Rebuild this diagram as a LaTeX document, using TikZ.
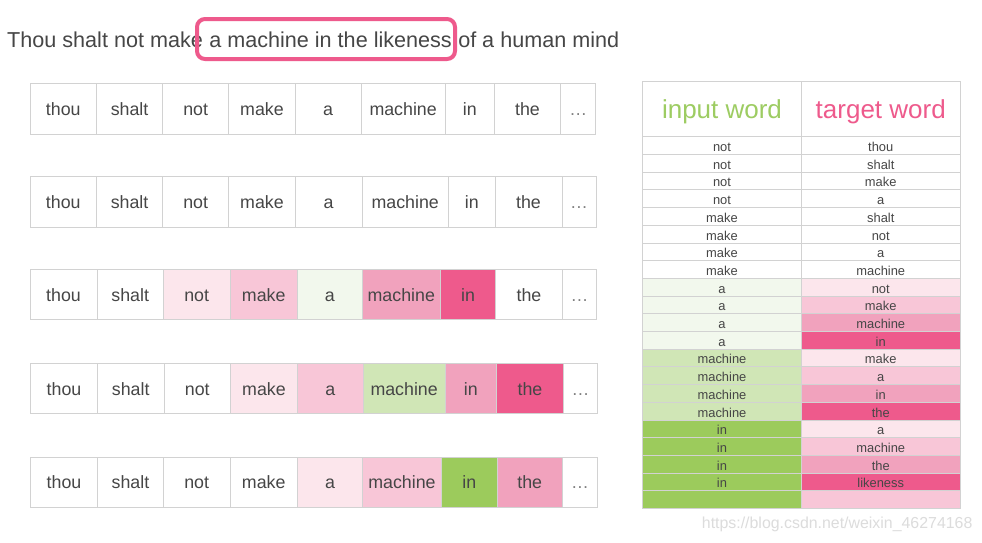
\documentclass[tikz,border=0pt]{standalone}
\usepackage{fontspec}
\setmainfont{Liberation Sans}
\definecolor{pkA}{HTML}{FCE6EC}
\definecolor{pkB}{HTML}{F8C6D7}
\definecolor{pkC}{HTML}{F1A2BD}
\definecolor{pkD}{HTML}{EE5A8C}
\definecolor{gnA}{HTML}{F2F8ED}
\definecolor{gnB}{HTML}{D0E6B6}
\definecolor{gnC}{HTML}{9CCB5C}
\definecolor{hdgreen}{HTML}{9DCC62}
\definecolor{gridc}{HTML}{D2D2D2}
\definecolor{txtc}{HTML}{464646}
\definecolor{wmark}{HTML}{DCDCDC}
\newcommand{\mywordrow}[4]{%
  \foreach \xl/\xr/\w/\c [count=\i] in {#4} {
    \node[cell, fill=\c, minimum width={(\xr-\xl)*1pt}] (#1c\i) at ({(\xl+\xr)/2},{(#2+#3)/2}) {\w};
  }%
}
\begin{document}
\begin{tikzpicture}[x=1pt,y=-1pt,
  cell/.style={draw=gridc, line width=0.9pt, inner sep=0pt, text=txtc,
    minimum height=50.5pt, text height=13.4pt, text depth=0pt,
    font=\fontsize{17.8}{20}\selectfont},
  tcell/.style={draw=gridc, line width=0.8pt, inner sep=0pt, text=txtc,
    minimum height=17.7pt, text height=12pt, text depth=0pt,
    font=\fontsize{12.9}{14}\selectfont},
  hcell/.style={draw=gridc, line width=0.8pt, inner sep=0pt,
    minimum height=56pt, text height=18.6pt, text depth=0pt,
    font=\fontsize{26}{30}\selectfont},
  toptext/.style={inner sep=0pt, text=txtc, font=\fontsize{21.6}{24}\selectfont},
  hlbox/.style={draw=pkD, line width=4pt, rounded corners=8pt},
]
\fill[white] (0,0) rectangle (982,542);
\useasboundingbox (0,0) rectangle (982,542);

% title line
\node[toptext, anchor=base west] (t1) at (7,47) {Thou shalt not make};
\node[toptext, anchor=base west] (t2) at ([xshift=6pt]t1.base east) {a machine in the likeness};
\node[toptext, anchor=base west] (t3) at ([xshift=6pt]t2.base east) {of a human mind};
\draw[hlbox] (197,19) rectangle (455,59);

% word rows
\mywordrow{ra}{83.3}{134.3}{30/96.5/thou/white, 96.5/162.7/shalt/white, 162.7/228.7/not/white,
  228.7/295.3/make/white, 295.3/361/a/white, 361/445.3/machine/white,
  445.3/494.3/in/white, 494.3/560.7/the/white, 560.7/595.7/\textcolor{gray}{\dots}/white}
\mywordrow{rb}{176.5}{227.5}{30/96.5/thou/white, 96.5/162.7/shalt/white, 162.7/228.7/not/white,
  228.7/295.3/make/white, 295.3/362/a/white, 362/448.5/machine/white,
  448.5/495/in/white, 495/562/the/white, 562/596/\textcolor{gray}{\dots}/white}
\mywordrow{rc}{269.3}{320}{30/97/thou/white, 97/163.4/shalt/white, 163.4/230/not/pkA,
  230/297.4/make/pkB, 297.4/362.3/a/gnA, 362.3/440.3/machine/pkC,
  440.3/495.7/in/pkD, 495.7/562.3/the/white, 562.3/596.7/\textcolor{gray}{\dots}/white}
\mywordrow{rd}{364}{412.7}{30.5/97.5/thou/white, 97.5/164/shalt/white, 164/230.5/not/white,
  230.5/297.5/make/pkA, 297.5/363.3/a/pkB, 363.3/445/machine/gnB,
  445/496.7/in/pkC, 496.7/563.3/the/pkD, 563.3/597.7/\textcolor{gray}{\dots}/white}
\mywordrow{re}{457.5}{507}{30.5/97.5/thou/white, 97.5/163.4/shalt/white, 163.4/230/not/white,
  230/297.4/make/white, 297.4/362.5/a/pkA, 362.5/441.5/machine/pkB,
  441.5/497.2/in/gnC, 497.2/562.3/the/pkC, 562.3/597.7/\textcolor{gray}{\dots}/white}

% table header
\node[hcell, minimum width=159pt, text=hdgreen] (hin) at (722,109) {input word};
\node[hcell, minimum width=158.5pt, text=pkD] (htg) at (880.75,109) {target word};

% table body
\foreach \iw/\tw/\ci/\ct [count=\i] in {
  not/thou/white/white, not/shalt/white/white, not/make/white/white, not/a/white/white,
  make/shalt/white/white, make/not/white/white, make/a/white/white, make/machine/white/white,
  a/not/gnA/pkA, a/make/gnA/pkB, a/machine/gnA/pkC, a/in/gnA/pkD,
  machine/make/gnB/pkA, machine/a/gnB/pkB, machine/in/gnB/pkC, machine/the/gnB/pkD,
  in/a/gnC/pkA, in/machine/gnC/pkB, in/the/gnC/pkC, in/likeness/gnC/pkD} {
  \pgfmathsetmacro\yc{136.7+(\i-0.5)*17.7}
  \node[tcell, minimum width=159pt, fill=\ci] (in\i) at (722,\yc) {\iw};
  \node[tcell, minimum width=158.5pt, fill=\ct] (tg\i) at (880.75,\yc) {\tw};
}
\node[tcell, minimum width=159pt, fill=gnC] (in21) at (722,{136.7+20.5*17.7}) {};
\node[tcell, minimum width=158.5pt, fill=pkB] (tg21) at (880.75,{136.7+20.5*17.7}) {};

% watermark
\node[inner sep=0pt, anchor=base west, text=wmark, font=\fontsize{15.9}{18}\selectfont] (wm) at (701.7,528) {https://blog.csdn.net/weixin\_46274168};
\end{tikzpicture}
\end{document}
